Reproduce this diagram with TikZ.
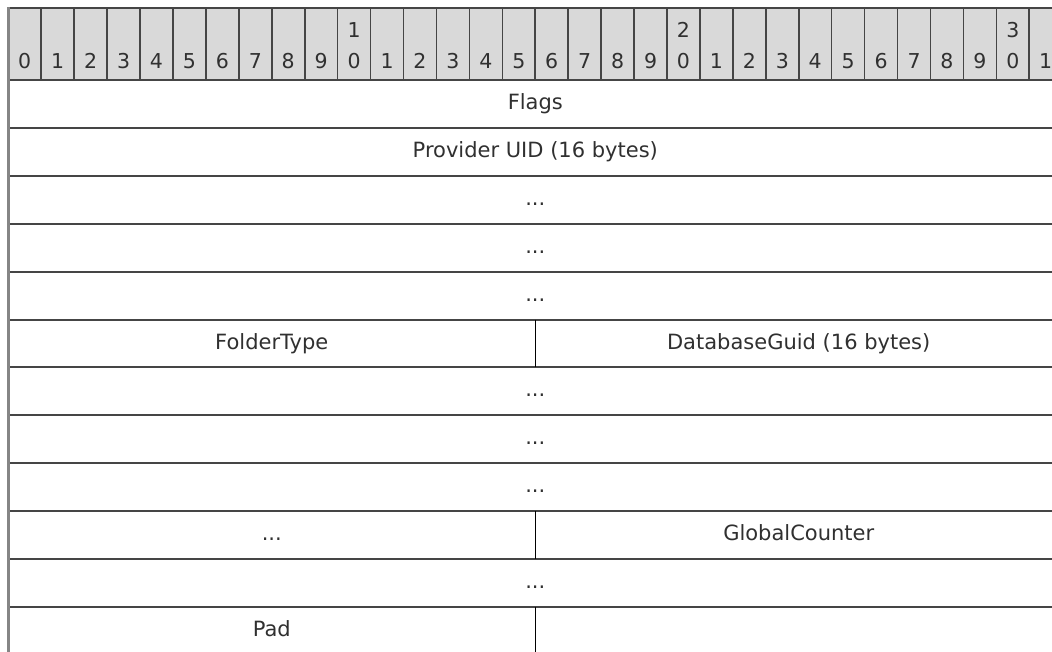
\documentclass[tikz,border=0pt]{standalone}
\usepackage{fontspec}
\setmainfont{DejaVu Sans}
\definecolor{hdrfill}{HTML}{D9D9D9}
\definecolor{rulecol}{HTML}{454545}
\definecolor{leftcol}{HTML}{858585}
\definecolor{txtcol}{HTML}{303030}
\begin{document}
\begin{tikzpicture}[x=1pt,y=-1pt,
  lbl/.style={font=\fontsize{21}{25}\selectfont, text=txtcol, inner sep=0pt, anchor=base},
  dig/.style={font=\fontsize{20.5}{24}\selectfont, text=txtcol, inner sep=0pt, anchor=base},
  hrule/.style={draw=rulecol, line width=2pt},
  vhdr/.style={draw=rulecol, line width=1.6pt},
  split/.style={draw=black, line width=1.3pt},
  lborder/.style={draw=leftcol, line width=2.6pt}]
\useasboundingbox (0,0) rectangle (1052,652);
\begin{scope}
\clip (0,0) rectangle (1052,652);
% header
\fill[hdrfill] (8.3,8.3) rectangle (1062.2,80);
\foreach \i in {1,...,31}
  \draw[vhdr] ({8.3+\i*32.935},8.3) -- ({8.3+\i*32.935},80);
\foreach \i in {0,...,31}{
  \pgfmathtruncatemacro{\lo}{mod(\i,10)}
  \pgfmathtruncatemacro{\hi}{int(\i/10)}
  \node[dig] (d\i) at ({8.3+(\i+0.5)*32.935},69) {\lo};
  \ifnum\lo=0 \ifnum\hi>0
    \node[dig] (t\i) at ({8.3+(\i+0.5)*32.935},38) {\hi};
  \fi\fi
}
\draw[hrule] (8.3,8.3) -- (1062.2,8.3);
% horizontal rules
\foreach \y in {80,127.9,175.8,223.7,271.6,319.5,367.4,415.3,463.2,511.1,559,606.9}
  \draw[hrule] (8.3,\y) -- (1062.2,\y);
% split lines
\draw[split] (535.3,319.5) -- (535.3,367.4);
\draw[split] (535.3,511.1) -- (535.3,559);
\draw[split] (535.3,606.9) -- (535.3,654.8);
% left border
\draw[lborder] (8.3,7.3) -- (8.3,654.8);
% labels
\node[lbl] (flags) at (535.3,109.5) {Flags};
\node[lbl] (uid) at (535.3,157.4) {Provider UID (16 bytes)};
\node[lbl] (c1) at (535.3,205.3) {...};
\node[lbl] (c2) at (535.3,253.2) {...};
\node[lbl] (c3) at (535.3,301.1) {...};
\node[lbl] (ftype) at (271.8,349) {FolderType};
\node[lbl] (dbguid) at (798.7,349) {DatabaseGuid (16 bytes)};
\node[lbl] (c4) at (535.3,396.9) {...};
\node[lbl] (c5) at (535.3,444.8) {...};
\node[lbl] (c6) at (535.3,492.7) {...};
\node[lbl] (c7) at (271.8,540.6) {...};
\node[lbl] (gcount) at (798.7,540.6) {GlobalCounter};
\node[lbl] (c8) at (535.3,588.5) {...};
\node[lbl] (pad) at (271.8,636.4) {Pad};
\end{scope}
\end{tikzpicture}
\end{document}
